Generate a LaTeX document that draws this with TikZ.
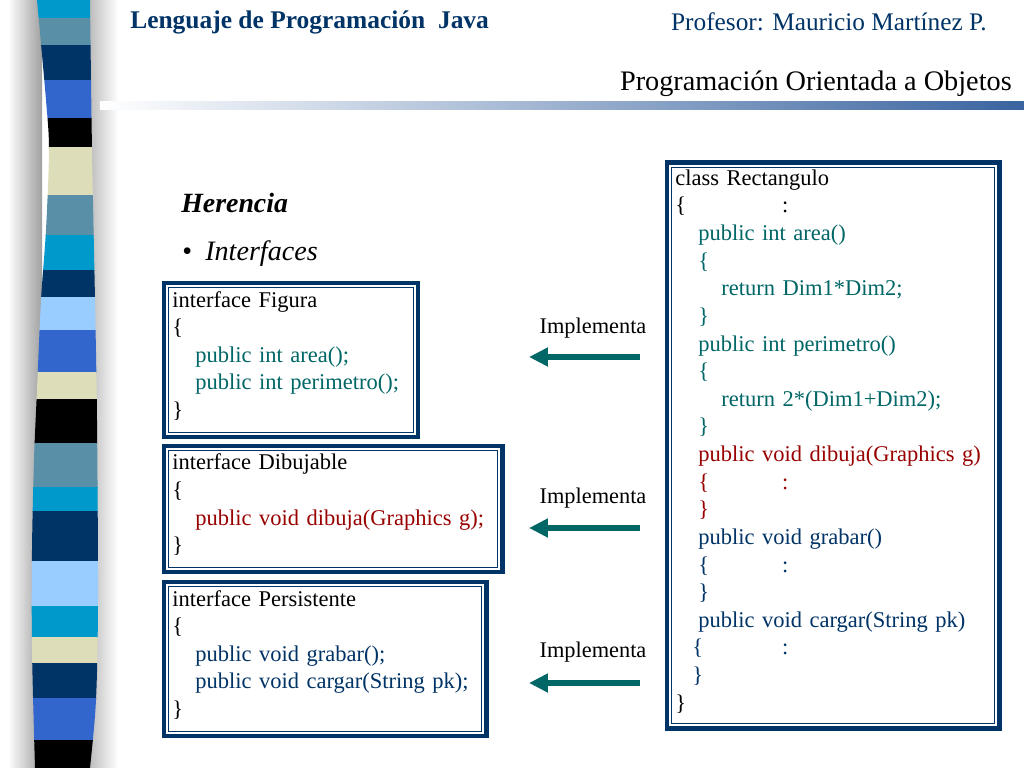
\documentclass[tikz, border = 0pt]{standalone}
\usepackage{fontspec}
\setmainfont{Liberation Serif}
\usetikzlibrary{arrows.meta}

\definecolor{boxnavy}{RGB}{0, 51, 102}
\definecolor{codeteal}{RGB}{0, 102, 102}
\definecolor{codered}{RGB}{153, 0, 0}
\definecolor{stcyan}{RGB}{0, 153, 204}
\definecolor{ststeel}{RGB}{90, 143, 168}
\definecolor{stnavy}{RGB}{0, 51, 102}
\definecolor{stroyal}{RGB}{51, 102, 204}
\definecolor{stbeige}{RGB}{222, 221, 186}
\definecolor{stlight}{RGB}{153, 204, 255}
\definecolor{barblue}{RGB}{58, 100, 160}

\newcommand{\ind}{\hspace*{16.3pt}}
\newcommand{\brcol}[1]{\makebox[#1][l]{\{}:}
\newcommand{\codeln}[2]{\mbox{\textcolor{#1}{#2}}}
\newcommand{\lastbr}{\}\rule[-8pt]{0pt}{8pt}}

\begin{document}
\begin{tikzpicture}[x = 0.025cm, y = -0.025cm,
	codebox/.style = {draw = boxnavy, line width = 3.5pt, inner xsep = 0pt, inner ysep = 0pt,
		anchor = north west, align = left, font = \fontsize{16}{19.65}\selectfont,
		path picture = {\draw [boxnavy, line width = 0.7pt]
			([shift = {(3.2pt, -3.2pt)}] path picture bounding box.north west) rectangle
			([shift = {(-3.2pt, 3.2pt)}] path picture bounding box.south east);}},
	impltext/.style = {font = \fontsize{15.9}{19}\selectfont},
	implarrow/.style = {codeteal, line width = 4.25pt, -{Triangle[length = 13.5pt, width = 12.8pt]}}]

	% Slide
	
	\fill [white] (0, 0) rectangle (1024, 768);
	\useasboundingbox (0, 0) rectangle (1024, 768);
	
	% Striped band + shadow
	
	\shade [left color = white, right color = gray!75] (8, 0) rectangle (42, 768);
	\shade [left color = gray!55, right color = white] (88, 0) rectangle (118, 768);
	
	\begin{scope}
		\clip plot [smooth] coordinates {(37, 0) (46, 100) (49, 150) (46, 230) (41, 300) (37, 390) (34, 460) (32, 550) (32, 650) (35, 768)}
			-- plot [smooth] coordinates {(90, 768) (96, 700) (98, 600) (97, 420) (95, 300) (92, 150) (90, 0)} -- cycle;
		\foreach \ya / \yb / \col in {0/18/stcyan, 18/45/ststeel, 45/80/stnavy, 80/118/stroyal, 118/147/black,
			147/195/stbeige, 195/235/ststeel, 235/270/stcyan, 270/297/stnavy, 297/330/stlight, 330/372/stroyal,
			372/399/stbeige, 399/443/black, 443/487/ststeel, 487/511/stcyan, 511/561/stnavy, 561/606/stlight,
			606/637/stcyan, 637/663/stbeige, 663/698/stnavy, 698/740/stroyal, 740/768/black}
		{
			\fill [\col] (20, \ya) rectangle (110, \yb + 0.5);
		}
	\end{scope}
	
	% Header
	
	\node [anchor = west, inner sep = 0pt, text = boxnavy, font = \fontsize{18.1}{22}\selectfont\bfseries] (course) at (130, 22) {Lenguaje de Programación\ \ Java};
	\node [anchor = east, inner sep = 0pt, text = boxnavy, font = \fontsize{18}{22}\selectfont] (teacher) at (987, 22) {Profesor: Mauricio Martínez P.};
	\node [anchor = east, inner sep = 0pt, font = \fontsize{20.1}{24}\selectfont] (topic) at (1012, 84) {Programación Orientada a Objetos};
	
	\shade [left color = white, right color = barblue] (100, 102) rectangle (1024, 110);
	
	% Title + bullet
	
	\node [anchor = west, inner sep = 0pt, font = \fontsize{19.8}{24}\selectfont\bfseries\itshape] (herencia) at (181, 203) {Herencia};
	\node [anchor = west, inner sep = 0pt, font = \fontsize{20}{24}\selectfont] (bullet) at (182, 254) {•};
	\node [anchor = west, inner sep = 0pt, font = \fontsize{20}{24}\selectfont\itshape] (interfaces) at (205, 254) {Interfaces};
	
	% Interfaces
	
	\node [codebox, minimum width = 6.35cm, minimum height = 3.85cm, text width = 5.925cm] (figura) at (161.5, 280.5)
		{\mbox{interface Figura}\\
		\{\\
		\ind\codeln{codeteal}{public int area();}\\
		\ind\codeln{codeteal}{public int perimetro();}\\
		\lastbr};
	
	\node [codebox, minimum width = 8.45cm, minimum height = 3.15cm, text width = 8.025cm] (dibujable) at (161.5, 443.5)
		{\mbox{interface Dibujable}\\
		\{\\
		\ind\codeln{codered}{public void dibuja(Graphics g);}\\
		\lastbr};
	
	\node [codebox, minimum width = 8.05cm, minimum height = 3.85cm, text width = 7.625cm] (persistente) at (161.5, 579.5)
		{\mbox{interface Persistente}\\
		\{\\
		\ind\codeln{boxnavy}{public void grabar();}\\
		\ind\codeln{boxnavy}{public void cargar(String pk);}\\
		\lastbr};
	
	% Class
	
	\node [codebox, minimum width = 8.3cm, minimum height = 14.125cm, text width = 7.875cm] (rectangulo) at (664.5, 160.5)
		{\mbox{class Rectangulo}\\
		\brcol{75.8pt}\\
		\ind\codeln{codeteal}{public int area()}\\
		\ind\codeln{codeteal}{\{}\\
		\ind\ind\codeln{codeteal}{return Dim1*Dim2;}\\
		\ind\codeln{codeteal}{\}}\\
		\ind\codeln{codeteal}{public int perimetro()}\\
		\ind\codeln{codeteal}{\{}\\
		\ind\ind\codeln{codeteal}{return 2*(Dim1+Dim2);}\\
		\ind\codeln{codeteal}{\}}\\
		\ind\codeln{codered}{public void dibuja(Graphics g)}\\
		\ind\codeln{codered}{\brcol{59.5pt}}\\
		\ind\codeln{codered}{\}}\\
		\ind\codeln{boxnavy}{public void grabar()}\\
		\ind\codeln{boxnavy}{\brcol{59.5pt}}\\
		\ind\codeln{boxnavy}{\}}\\
		\ind\codeln{boxnavy}{public void cargar(String pk)}\\
		\hspace*{12pt}\codeln{boxnavy}{\brcol{63.8pt}}\\
		\hspace*{12pt}\codeln{boxnavy}{\}}\\
		\lastbr};
	
	% Implementa arrows
	
	\foreach \yl / \ya [count = \i] in {328/357, 498/528, 652/683}
	{
		\node [impltext] (impl\i) at (593, \yl) {Implementa};
		\coordinate (from\i) at (640, \ya);
		\coordinate (to\i) at (529, \ya);
		\draw [implarrow] (from\i) -- (to\i);
	}

\end{tikzpicture}
\end{document}
